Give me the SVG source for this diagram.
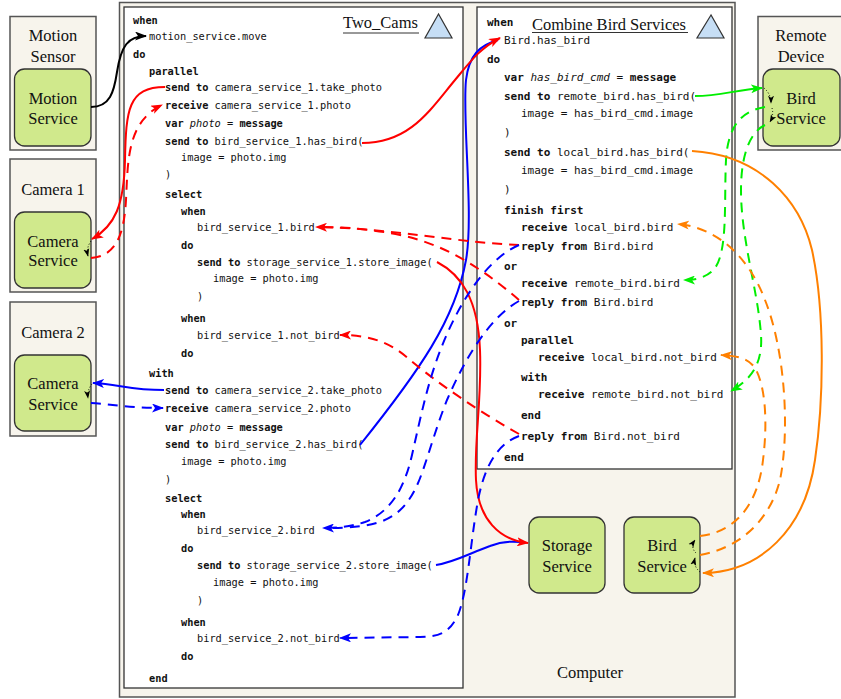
<svg xmlns="http://www.w3.org/2000/svg" width="841" height="699" viewBox="0 0 841 699">
<style>
.box{fill:#f7f4ec;stroke:#555;stroke-width:1.5}
.code-box{fill:#fff;stroke:#333;stroke-width:1.3}
.node{fill:#d0e98c;stroke:#333;stroke-width:1.3}
.lbl{font-family:"Liberation Serif","Times New Roman",serif;font-size:16.5px;text-anchor:middle;fill:#111}
.ttl{font-family:"Liberation Serif","Times New Roman",serif;font-size:16.5px;fill:#111}
.c1{font-family:"DejaVu Sans Mono",monospace;font-size:10.3px;fill:#111}
.c2{font-family:"DejaVu Sans Mono",monospace;font-size:11px;fill:#111}
.b{font-weight:bold}
.i{font-style:italic}
.tri{fill:#c6def5;stroke:#333;stroke-width:1.2}
.ln{fill:none;stroke-width:2}
.d{stroke-dasharray:10,7}
.dot{fill:none;stroke:#000;stroke-width:1;stroke-dasharray:1,2}
</style>
<defs>
<marker id="mK" viewBox="0 0 12 9" refX="11" refY="4.5" markerWidth="12" markerHeight="9" orient="auto" markerUnits="userSpaceOnUse"><path d="M0,0 L12,4.5 L0,9 L3,4.5 z" fill="#000"/></marker>
<marker id="mR" viewBox="0 0 12 9" refX="11" refY="4.5" markerWidth="12" markerHeight="9" orient="auto" markerUnits="userSpaceOnUse"><path d="M0,0 L12,4.5 L0,9 L3,4.5 z" fill="#f00"/></marker>
<marker id="mB" viewBox="0 0 12 9" refX="11" refY="4.5" markerWidth="12" markerHeight="9" orient="auto" markerUnits="userSpaceOnUse"><path d="M0,0 L12,4.5 L0,9 L3,4.5 z" fill="#00f"/></marker>
<marker id="mG" viewBox="0 0 12 9" refX="11" refY="4.5" markerWidth="12" markerHeight="9" orient="auto" markerUnits="userSpaceOnUse"><path d="M0,0 L12,4.5 L0,9 L3,4.5 z" fill="#0e0"/></marker>
<marker id="mO" viewBox="0 0 12 9" refX="11" refY="4.5" markerWidth="12" markerHeight="9" orient="auto" markerUnits="userSpaceOnUse"><path d="M0,0 L12,4.5 L0,9 L3,4.5 z" fill="#ff8000"/></marker>
<marker id="mk" viewBox="0 0 12 9" refX="11" refY="4.5" markerWidth="8" markerHeight="7" orient="auto" markerUnits="userSpaceOnUse"><path d="M0,0 L12,4.5 L0,9 L3,4.5 z" fill="#000"/></marker>
</defs>

<g id="computer">
<rect class="box" x="119.5" y="2.5" width="615.5" height="694.5"/>
<text class="lbl" x="590" y="677.5">Computer</text>
</g>

<g id="two_cams">
<rect class="code-box" x="124" y="7" width="339" height="681"/>
<text class="ttl" x="343" y="28">Two_Cams</text>
<line x1="343" y1="33" x2="419" y2="33" stroke="#333" stroke-width="1"/>
<polygon class="tri" points="438.5,14 425,38 452,38"/>
<text class="c1" x="133" y="23.5"><tspan class="b">when</tspan></text>
<text class="c1" x="149" y="40">motion_service.move</text>
<text class="c1" x="133" y="58"><tspan class="b">do</tspan></text>
<text class="c1" x="149" y="74.5"><tspan class="b">parallel</tspan></text>
<text class="c1" x="165" y="91"><tspan class="b">send to</tspan> camera_service_1.take_photo</text>
<text class="c1" x="165" y="108.5"><tspan class="b">receive</tspan> camera_service_1.photo</text>
<text class="c1" x="165" y="126.5"><tspan class="b">var</tspan> <tspan class="i">photo</tspan> = <tspan class="b">message</tspan></text>
<text class="c1" x="165" y="144.5"><tspan class="b">send to</tspan> bird_service_1.has_bird(</text>
<text class="c1" x="181" y="161">image = photo.img</text>
<text class="c1" x="165" y="178">)</text>
<text class="c1" x="165" y="197.5"><tspan class="b">select</tspan></text>
<text class="c1" x="181" y="214.5"><tspan class="b">when</tspan></text>
<text class="c1" x="197" y="231">bird_service_1.bird</text>
<text class="c1" x="181" y="248.5"><tspan class="b">do</tspan></text>
<text class="c1" x="197" y="266"><tspan class="b">send to</tspan> storage_service_1.store_image(</text>
<text class="c1" x="213" y="282">image = photo.img</text>
<text class="c1" x="197" y="300">)</text>
<text class="c1" x="181" y="321.5"><tspan class="b">when</tspan></text>
<text class="c1" x="197" y="338.5">bird_service_1.not_bird</text>
<text class="c1" x="181" y="356.5"><tspan class="b">do</tspan></text>
<text class="c1" x="149" y="376.5"><tspan class="b">with</tspan></text>
<text class="c1" x="165" y="393.5"><tspan class="b">send to</tspan> camera_service_2.take_photo</text>
<text class="c1" x="165" y="411.5"><tspan class="b">receive</tspan> camera_service_2.photo</text>
<text class="c1" x="165" y="430.5"><tspan class="b">var</tspan> <tspan class="i">photo</tspan> = <tspan class="b">message</tspan></text>
<text class="c1" x="165" y="447.5"><tspan class="b">send to</tspan> bird_service_2.has_bird(</text>
<text class="c1" x="181" y="464.5">image = photo.img</text>
<text class="c1" x="165" y="482.5">)</text>
<text class="c1" x="165" y="501.5"><tspan class="b">select</tspan></text>
<text class="c1" x="181" y="517.5"><tspan class="b">when</tspan></text>
<text class="c1" x="197" y="533.5">bird_service_2.bird</text>
<text class="c1" x="181" y="551.5"><tspan class="b">do</tspan></text>
<text class="c1" x="197" y="568.5"><tspan class="b">send to</tspan> storage_service_2.store_image(</text>
<text class="c1" x="213" y="585.5">image = photo.img</text>
<text class="c1" x="197" y="603.5">)</text>
<text class="c1" x="181" y="625.5"><tspan class="b">when</tspan></text>
<text class="c1" x="197" y="641.5">bird_service_2.not_bird</text>
<text class="c1" x="181" y="659.5"><tspan class="b">do</tspan></text>
<text class="c1" x="149" y="681.5"><tspan class="b">end</tspan></text>
</g>

<g id="combine_bird_services">
<rect class="code-box" x="477" y="7" width="255" height="462"/>
<text class="ttl" x="532" y="30">Combine Bird Services</text>
<line x1="532" y1="32.5" x2="688" y2="32.5" stroke="#333" stroke-width="1"/>
<polygon class="tri" points="711,15 697,38 724,38"/>
<text class="c2" x="487" y="26"><tspan class="b">when</tspan></text>
<text class="c2" x="504" y="43.5">Bird.has_bird</text>
<text class="c2" x="487" y="62.5"><tspan class="b">do</tspan></text>
<text class="c2" x="504" y="80.5"><tspan class="b">var</tspan> <tspan class="i">has_bird_cmd</tspan> = <tspan class="b">message</tspan></text>
<text class="c2" x="504" y="99.5"><tspan class="b">send to</tspan> remote_bird.has_bird(</text>
<text class="c2" x="521" y="116.5">image = has_bird_cmd.image</text>
<text class="c2" x="504" y="135.5">)</text>
<text class="c2" x="504" y="155.5"><tspan class="b">send to</tspan> local_bird.has_bird(</text>
<text class="c2" x="521" y="173.5">image = has_bird_cmd.image</text>
<text class="c2" x="504" y="192.5">)</text>
<text class="c2" x="504" y="213.5"><tspan class="b">finish first</tspan></text>
<text class="c2" x="521" y="230.5"><tspan class="b">receive</tspan> local_bird.bird</text>
<text class="c2" x="521" y="249.5"><tspan class="b">reply from</tspan> Bird.bird</text>
<text class="c2" x="504" y="269.5"><tspan class="b">or</tspan></text>
<text class="c2" x="521" y="286.5"><tspan class="b">receive</tspan> remote_bird.bird</text>
<text class="c2" x="521" y="305.5"><tspan class="b">reply from</tspan> Bird.bird</text>
<text class="c2" x="504" y="326.5"><tspan class="b">or</tspan></text>
<text class="c2" x="521" y="343.5"><tspan class="b">parallel</tspan></text>
<text class="c2" x="538" y="360.5"><tspan class="b">receive</tspan> local_bird.not_bird</text>
<text class="c2" x="521" y="380.5"><tspan class="b">with</tspan></text>
<text class="c2" x="538" y="397.5"><tspan class="b">receive</tspan> remote_bird.not_bird</text>
<text class="c2" x="521" y="418.5"><tspan class="b">end</tspan></text>
<text class="c2" x="521" y="439.5"><tspan class="b">reply from</tspan> Bird.not_bird</text>
<text class="c2" x="504" y="460.5"><tspan class="b">end</tspan></text>
</g>

<g id="motion_sensor">
<rect class="box" x="10" y="16.5" width="86" height="133.5"/>
<text class="lbl" x="53" y="40.5">Motion</text>
<text class="lbl" x="53" y="61.5">Sensor</text>
</g>
<g id="motion_service">
<rect class="node" x="14.5" y="69" width="76.5" height="77" rx="10"/>
<text class="lbl" x="53" y="103.5">Motion</text>
<text class="lbl" x="53" y="123.5">Service</text>
</g>

<g id="camera1">
<rect class="box" x="10" y="159" width="86" height="133"/>
<text class="lbl" x="53" y="194.5">Camera 1</text>
</g>
<g id="camera_service_1">
<rect class="node" x="14.5" y="212" width="76.5" height="76" rx="10"/>
<text class="lbl" x="53" y="246.5">Camera</text>
<text class="lbl" x="53" y="266">Service</text>
</g>

<g id="camera2">
<rect class="box" x="10" y="302" width="86" height="134"/>
<text class="lbl" x="53" y="337.5">Camera 2</text>
</g>
<g id="camera_service_2">
<rect class="node" x="14.5" y="355" width="76.5" height="76" rx="10"/>
<text class="lbl" x="53" y="388.5">Camera</text>
<text class="lbl" x="53" y="409.5">Service</text>
</g>

<g id="remote_device">
<rect class="box" x="758" y="16.5" width="88" height="133.5"/>
<text class="lbl" x="801" y="40.5">Remote</text>
<text class="lbl" x="801" y="61.5">Device</text>
</g>
<g id="remote_bird_service">
<rect class="node" x="763" y="69" width="77" height="77" rx="10"/>
<text class="lbl" x="801" y="103.5">Bird</text>
<text class="lbl" x="801" y="123.5">Service</text>
</g>

<g id="storage_service">
<rect class="node" x="529" y="517" width="76" height="76" rx="10"/>
<text class="lbl" x="567" y="550.5">Storage</text>
<text class="lbl" x="567" y="571.5">Service</text>
</g>
<g id="bird_service">
<rect class="node" x="624" y="517" width="76" height="76" rx="10"/>
<text class="lbl" x="662" y="550.5">Bird</text>
<text class="lbl" x="662" y="571.5">Service</text>
</g>

<g id="connectors">
<path class="ln" stroke="#000" marker-end="url(#mK)" d="M91,107 C 110,107 114,92 117,72 C 121,46 128,36 146,36"/>

<path class="ln" stroke="#f00" marker-end="url(#mR)" d="M165,87 C 128,87 126,110 125,160 C 124,205 115,226 92,239"/>
<path class="ln d" stroke="#f00" marker-end="url(#mR)" d="M91,258 C 116,256 124,235 126,200 C 128,160 127,122 162,105"/>
<path class="dot" marker-end="url(#mk)" d="M91,241 Q86,248 88,256"/>

<path class="ln" stroke="#00f" marker-end="url(#mB)" d="M164,390 C 130,390 118,384 93,383"/>
<path class="ln d" stroke="#00f" marker-end="url(#mB)" d="M91,403 C 110,404 130,408 163,408"/>
<path class="dot" marker-end="url(#mk)" d="M92,384 Q87,390 88,398"/>

<path class="ln" stroke="#00f" d="M360,445 C 420,370 455,320 466,260 C 474,215 462,120 466,80 C 469,55 480,45 498,40"/>
<path class="ln" stroke="#f00" marker-end="url(#mR)" d="M362,143 C 410,143 430,110 455,80 C 470,62 480,48 500,38"/>

<path class="ln" stroke="#00f" d="M436,565 C 455,562 470,553 490,546 C 500,542 510,541 520,542"/>
<path class="ln" stroke="#f00" marker-end="url(#mR)" d="M437,262 C 462,275 478,300 480,350 C 482,400 474,440 476,480 C 478,520 500,540 528,543"/>

<path class="ln d" stroke="#f00" marker-end="url(#mR)" d="M519,245 C 460,243 390,228 316,227"/>
<path class="ln d" stroke="#f00" d="M519,300 C 490,275 450,245 400,235 C 370,229 345,227 322,227"/>
<path class="ln d" stroke="#f00" marker-end="url(#mR)" d="M519,434 C 480,412 440,385 410,360 C 390,342 370,335 340,335"/>

<path class="ln d" stroke="#00f" marker-end="url(#mB)" d="M519,245 C 480,262 450,320 435,365 C 425,395 420,420 412,455 C 404,490 390,512 365,522 C 350,527 335,528 323,528"/>
<path class="ln d" stroke="#00f" d="M519,301 C 485,320 460,370 447,400 C 437,425 430,450 423,470 C 413,500 400,515 380,522 C 360,528 340,528 330,528"/>
<path class="ln d" stroke="#00f" marker-end="url(#mB)" d="M519,436 C 495,445 484,470 478,500 C 470,545 468,590 458,615 C 450,632 440,637 420,637 L340,638"/>

<path class="ln" stroke="#0e0" marker-end="url(#mG)" d="M695,96 C 720,96 735,90 762,88"/>
<path class="ln d" stroke="#0e0" marker-end="url(#mG)" d="M765,107 C 742,111 728,125 726,160 C 724,200 728,250 715,268 C 708,277 697,280 684,280"/>
<path class="ln d" stroke="#0e0" marker-end="url(#mG)" d="M765,125 C 750,132 741,155 741,190 C 741,240 758,290 761,335 C 763,365 750,380 731,391"/>
<path class="dot" marker-end="url(#mk)" d="M764,88 Q771,94 771,103"/>
<path class="dot" marker-end="url(#mk)" d="M772,108 Q774,115 770,122"/>

<path class="ln" stroke="#ff8000" marker-end="url(#mO)" d="M692,151 C 760,155 800,200 812,250 C 825,310 824,400 815,460 C 805,530 760,572 703,573"/>
<path class="ln d" stroke="#ff8000" marker-end="url(#mO)" d="M700,555 C 740,548 770,520 780,480 C 790,430 785,350 765,300 C 750,260 720,228 678,224"/>
<path class="ln d" stroke="#ff8000" marker-end="url(#mO)" d="M700,536 C 735,532 758,505 763,460 C 768,420 765,385 755,368 C 748,358 738,356 721,355"/>
<path class="dot" marker-end="url(#mk)" d="M700,572 Q693,566 695,558"/>
<path class="dot" marker-end="url(#mk)" d="M696,553 Q690,547 695,540"/>
</g>
</svg>
